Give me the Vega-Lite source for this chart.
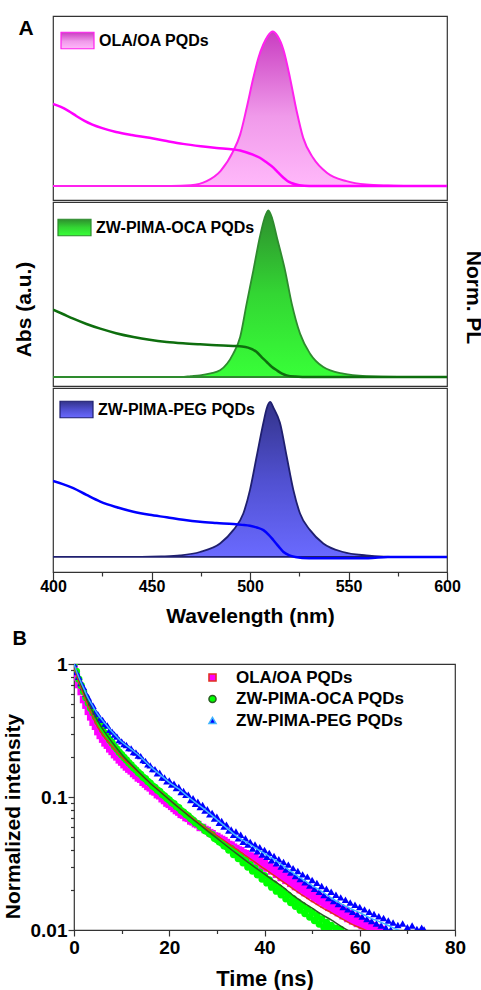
{
"$schema": "https://vega.github.io/schema/vega-lite/v6.json",
"padding": {"left": 0, "top": 15, "right": 0, "bottom": 0},
"background": "white",
"config": {
  "font": "Liberation Sans",
  "view": {"stroke": "#333333", "strokeWidth": 1.2},
  "axis": {"grid": false, "domain": false, "labelFont": "Liberation Sans", "titleFont": "Liberation Sans", "labelFontWeight": "bold", "titleFontWeight": "bold", "labelColor": "#000000", "titleColor": "#000000", "tickColor": "#333333", "tickWidth": 1.2},
  "legend": {"labelFont": "Liberation Sans", "labelColor": "#000000", "labelLimit": 300},
  "title": {"font": "Liberation Sans", "fontWeight": "bold", "color": "#000000"}
},
"datasets": {
  "pl1": [{"wl":400,"v":0},{"wl":460,"v":0},{"wl":470,"v":0.005},{"wl":478,"v":0.032},{"wl":485,"v":0.097},{"wl":491.5,"v":0.226},{"wl":495,"v":0.333},{"wl":498.3,"v":0.505},{"wl":501.7,"v":0.7},{"wl":504.3,"v":0.83},{"wl":506.7,"v":0.914},{"wl":509,"v":0.97},{"wl":511.5,"v":1},{"wl":514,"v":0.97},{"wl":517,"v":0.88},{"wl":520.3,"v":0.7},{"wl":523.7,"v":0.484},{"wl":527,"v":0.312},{"wl":532,"v":0.183},{"wl":539,"v":0.086},{"wl":549,"v":0.032},{"wl":559,"v":0.01},{"wl":570,"v":0.003},{"wl":580,"v":0},{"wl":600,"v":0}],
  "abs1": [{"wl":400,"v":0.531},{"wl":404,"v":0.512},{"wl":408,"v":0.485},{"wl":412,"v":0.452},{"wl":416,"v":0.422},{"wl":420,"v":0.398},{"wl":425,"v":0.375},{"wl":432,"v":0.35},{"wl":440,"v":0.33},{"wl":449,"v":0.312},{"wl":457,"v":0.293},{"wl":466,"v":0.273},{"wl":475,"v":0.258},{"wl":483,"v":0.247},{"wl":491.5,"v":0.237},{"wl":495,"v":0.23},{"wl":498,"v":0.219},{"wl":501.5,"v":0.203},{"wl":505,"v":0.183},{"wl":508.5,"v":0.152},{"wl":512,"v":0.118},{"wl":514.5,"v":0.085},{"wl":517,"v":0.054},{"wl":519,"v":0.033},{"wl":521,"v":0.02},{"wl":525,"v":0.005},{"wl":530,"v":0},{"wl":600,"v":0}],
  "pl2": [{"wl":400,"v":0},{"wl":465,"v":0},{"wl":470,"v":0.005},{"wl":474.6,"v":0.01},{"wl":480,"v":0.022},{"wl":484.8,"v":0.04},{"wl":491.5,"v":0.14},{"wl":495,"v":0.24},{"wl":498.3,"v":0.44},{"wl":501.7,"v":0.64},{"wl":505,"v":0.84},{"wl":507.3,"v":0.95},{"wl":509.3,"v":1},{"wl":511.3,"v":0.95},{"wl":513.6,"v":0.84},{"wl":517.8,"v":0.64},{"wl":521.2,"v":0.44},{"wl":525.4,"v":0.26},{"wl":530.5,"v":0.14},{"wl":537.2,"v":0.06},{"wl":547.3,"v":0.02},{"wl":559,"v":0.005},{"wl":575,"v":0},{"wl":600,"v":0}],
  "abs2": [{"wl":400,"v":0.404},{"wl":405,"v":0.378},{"wl":410.3,"v":0.35},{"wl":417,"v":0.318},{"wl":424,"v":0.29},{"wl":432,"v":0.263},{"wl":440.8,"v":0.24},{"wl":449,"v":0.223},{"wl":457.7,"v":0.21},{"wl":466,"v":0.202},{"wl":474.6,"v":0.196},{"wl":483,"v":0.191},{"wl":491.5,"v":0.186},{"wl":496,"v":0.183},{"wl":499,"v":0.176},{"wl":503.4,"v":0.15},{"wl":506,"v":0.118},{"wl":508.5,"v":0.09},{"wl":511,"v":0.062},{"wl":513.6,"v":0.04},{"wl":516,"v":0.022},{"wl":518.6,"v":0.01},{"wl":523,"v":0.003},{"wl":530,"v":0},{"wl":600,"v":0}],
  "pl3": [{"wl":400,"v":0},{"wl":445,"v":0},{"wl":455,"v":0.003},{"wl":464.5,"v":0.01},{"wl":474.6,"v":0.032},{"wl":484.8,"v":0.087},{"wl":491.5,"v":0.173},{"wl":496.6,"v":0.28},{"wl":500,"v":0.433},{"wl":503.4,"v":0.65},{"wl":506.8,"v":0.866},{"wl":508.5,"v":0.96},{"wl":510.2,"v":1},{"wl":512,"v":0.96},{"wl":515.2,"v":0.866},{"wl":518.6,"v":0.65},{"wl":522,"v":0.433},{"wl":525.4,"v":0.28},{"wl":530.5,"v":0.173},{"wl":537.2,"v":0.087},{"wl":547.3,"v":0.032},{"wl":559,"v":0.01},{"wl":568,"v":0.002},{"wl":575,"v":0},{"wl":600,"v":0}],
  "abs3": [{"wl":400,"v":0.49},{"wl":405,"v":0.47},{"wl":410.3,"v":0.444},{"wl":417,"v":0.4},{"wl":424,"v":0.357},{"wl":432,"v":0.322},{"wl":440.8,"v":0.292},{"wl":449,"v":0.272},{"wl":457.7,"v":0.256},{"wl":466,"v":0.24},{"wl":474.6,"v":0.227},{"wl":483,"v":0.219},{"wl":491.5,"v":0.212},{"wl":496,"v":0.207},{"wl":500,"v":0.201},{"wl":503.5,"v":0.19},{"wl":506.8,"v":0.173},{"wl":509.5,"v":0.143},{"wl":511.9,"v":0.108},{"wl":514.5,"v":0.068},{"wl":517,"v":0.032},{"wl":520,"v":0.01},{"wl":523,"v":0},{"wl":530,"v":-0.008},{"wl":560,"v":-0.008},{"wl":570,"v":0},{"wl":600,"v":0}],
  "decay": [
{"s":"O","t":0,"v":0.93},{"s":"O","t":0.5,"v":0.8},{"s":"O","t":1,"v":0.7},{"s":"O","t":1.5,"v":0.62},{"s":"O","t":2,"v":0.54},{"s":"O","t":2.5,"v":0.49},{"s":"O","t":3,"v":0.44},{"s":"O","t":3.5,"v":0.4},{"s":"O","t":4,"v":0.365},{"s":"O","t":4.5,"v":0.34},{"s":"O","t":5,"v":0.31},{"s":"O","t":5.5,"v":0.29},{"s":"O","t":6,"v":0.272},{"s":"O","t":6.5,"v":0.255},{"s":"O","t":7,"v":0.245},{"s":"O","t":7.5,"v":0.23},{"s":"O","t":8,"v":0.22},{"s":"O","t":8.5,"v":0.208},{"s":"O","t":9,"v":0.2},{"s":"O","t":9.5,"v":0.19},{"s":"O","t":10,"v":0.183},{"s":"O","t":10.5,"v":0.175},{"s":"O","t":11,"v":0.168},{"s":"O","t":11.5,"v":0.162},{"s":"O","t":12,"v":0.157},{"s":"O","t":12.5,"v":0.15},{"s":"O","t":13,"v":0.145},{"s":"O","t":13.5,"v":0.139},{"s":"O","t":14,"v":0.136},{"s":"O","t":14.5,"v":0.129},{"s":"O","t":15,"v":0.125},{"s":"O","t":15.5,"v":0.12},{"s":"O","t":16,"v":0.117},{"s":"O","t":16.5,"v":0.111},{"s":"O","t":17,"v":0.109},{"s":"O","t":17.5,"v":0.104},{"s":"O","t":18,"v":0.102},{"s":"O","t":18.5,"v":0.097},{"s":"O","t":19,"v":0.094},{"s":"O","t":19.5,"v":0.09},{"s":"O","t":20,"v":0.088},{"s":"O","t":20.5,"v":0.085},{"s":"O","t":21,"v":0.082},{"s":"O","t":21.5,"v":0.079},{"s":"O","t":22,"v":0.077},{"s":"O","t":22.5,"v":0.074},{"s":"O","t":23,"v":0.073},{"s":"O","t":23.5,"v":0.07},{"s":"O","t":24,"v":0.069},{"s":"O","t":24.5,"v":0.066},{"s":"O","t":25,"v":0.065},{"s":"O","t":25.5,"v":0.063},{"s":"O","t":26,"v":0.062},{"s":"O","t":26.5,"v":0.059},{"s":"O","t":27,"v":0.059},{"s":"O","t":27.5,"v":0.057},{"s":"O","t":28,"v":0.056},{"s":"O","t":28.5,"v":0.054},{"s":"O","t":29,"v":0.053},{"s":"O","t":29.5,"v":0.051},{"s":"O","t":30,"v":0.0505},{"s":"O","t":30.5,"v":0.049},{"s":"O","t":31,"v":0.048},{"s":"O","t":31.5,"v":0.047},{"s":"O","t":32,"v":0.0455},{"s":"O","t":32.5,"v":0.044},{"s":"O","t":33,"v":0.0435},{"s":"O","t":33.5,"v":0.042},{"s":"O","t":34,"v":0.041},{"s":"O","t":34.5,"v":0.04},{"s":"O","t":35,"v":0.0395},{"s":"O","t":35.5,"v":0.038},{"s":"O","t":36,"v":0.0375},{"s":"O","t":36.5,"v":0.036},{"s":"O","t":37,"v":0.036},{"s":"O","t":37.5,"v":0.034},{"s":"O","t":38,"v":0.035},{"s":"O","t":38.5,"v":0.032},{"s":"O","t":39,"v":0.0335},{"s":"O","t":39.5,"v":0.03},{"s":"O","t":40,"v":0.0322},{"s":"O","t":40.5,"v":0.0292},{"s":"O","t":41,"v":0.0305},{"s":"O","t":41.5,"v":0.0278},{"s":"O","t":42,"v":0.0292},{"s":"O","t":42.5,"v":0.0262},{"s":"O","t":43,"v":0.028},{"s":"O","t":43.5,"v":0.0248},{"s":"O","t":44,"v":0.0266},{"s":"O","t":44.5,"v":0.0236},{"s":"O","t":45,"v":0.0252},{"s":"O","t":45.5,"v":0.0224},{"s":"O","t":46,"v":0.024},{"s":"O","t":46.5,"v":0.0212},{"s":"O","t":47,"v":0.0228},{"s":"O","t":47.5,"v":0.0201},{"s":"O","t":48,"v":0.0216},{"s":"O","t":48.5,"v":0.0191},{"s":"O","t":49,"v":0.0206},{"s":"O","t":49.5,"v":0.0182},{"s":"O","t":50,"v":0.0196},{"s":"O","t":50.5,"v":0.0172},{"s":"O","t":51,"v":0.0186},{"s":"O","t":51.5,"v":0.0164},{"s":"O","t":52,"v":0.0177},{"s":"O","t":52.5,"v":0.0156},{"s":"O","t":53,"v":0.0168},{"s":"O","t":53.5,"v":0.0148},{"s":"O","t":54,"v":0.016},{"s":"O","t":54.5,"v":0.0141},{"s":"O","t":55,"v":0.0153},{"s":"O","t":55.5,"v":0.0135},{"s":"O","t":56,"v":0.0146},{"s":"O","t":56.5,"v":0.0128},{"s":"O","t":57,"v":0.014},{"s":"O","t":57.5,"v":0.0122},{"s":"O","t":58,"v":0.0133},{"s":"O","t":58.5,"v":0.0117},{"s":"O","t":59,"v":0.0127},{"s":"O","t":59.5,"v":0.0112},{"s":"O","t":60,"v":0.0122},{"s":"O","t":60.5,"v":0.0108},{"s":"O","t":61,"v":0.0116},{"s":"O","t":61.5,"v":0.0104},{"s":"O","t":62,"v":0.0112},{"s":"O","t":62.5,"v":0.0101},{"s":"O","t":63,"v":0.0108},{"s":"O","t":64,"v":0.0104},{"s":"O","t":65,"v":0.0101},
{"s":"C","t":0,"v":1},{"s":"C","t":0.5,"v":0.88},{"s":"C","t":1,"v":0.77},{"s":"C","t":1.5,"v":0.69},{"s":"C","t":2,"v":0.62},{"s":"C","t":2.5,"v":0.56},{"s":"C","t":3,"v":0.51},{"s":"C","t":3.5,"v":0.465},{"s":"C","t":4,"v":0.43},{"s":"C","t":4.5,"v":0.4},{"s":"C","t":5,"v":0.37},{"s":"C","t":5.5,"v":0.345},{"s":"C","t":6,"v":0.32},{"s":"C","t":6.5,"v":0.3},{"s":"C","t":7,"v":0.285},{"s":"C","t":7.5,"v":0.268},{"s":"C","t":8,"v":0.255},{"s":"C","t":8.5,"v":0.24},{"s":"C","t":9,"v":0.23},{"s":"C","t":9.5,"v":0.217},{"s":"C","t":10,"v":0.208},{"s":"C","t":10.5,"v":0.198},{"s":"C","t":11,"v":0.19},{"s":"C","t":11.5,"v":0.181},{"s":"C","t":12,"v":0.174},{"s":"C","t":12.5,"v":0.166},{"s":"C","t":13,"v":0.16},{"s":"C","t":13.5,"v":0.153},{"s":"C","t":14,"v":0.148},{"s":"C","t":14.5,"v":0.141},{"s":"C","t":15,"v":0.137},{"s":"C","t":15.5,"v":0.131},{"s":"C","t":16,"v":0.127},{"s":"C","t":16.5,"v":0.121},{"s":"C","t":17,"v":0.118},{"s":"C","t":17.5,"v":0.113},{"s":"C","t":18,"v":0.11},{"s":"C","t":18.5,"v":0.105},{"s":"C","t":19,"v":0.102},{"s":"C","t":19.5,"v":0.098},{"s":"C","t":20,"v":0.095},{"s":"C","t":20.5,"v":0.091},{"s":"C","t":21,"v":0.089},{"s":"C","t":21.5,"v":0.085},{"s":"C","t":22,"v":0.083},{"s":"C","t":22.5,"v":0.079},{"s":"C","t":23,"v":0.077},{"s":"C","t":23.5,"v":0.074},{"s":"C","t":24,"v":0.072},{"s":"C","t":24.5,"v":0.069},{"s":"C","t":25,"v":0.067},{"s":"C","t":25.5,"v":0.064},{"s":"C","t":26,"v":0.063},{"s":"C","t":26.5,"v":0.06},{"s":"C","t":27,"v":0.059},{"s":"C","t":27.5,"v":0.056},{"s":"C","t":28,"v":0.055},{"s":"C","t":28.5,"v":0.053},{"s":"C","t":29,"v":0.052},{"s":"C","t":29.5,"v":0.049},{"s":"C","t":30,"v":0.048},{"s":"C","t":30.5,"v":0.046},{"s":"C","t":31,"v":0.045},{"s":"C","t":31.5,"v":0.043},{"s":"C","t":32,"v":0.0425},{"s":"C","t":32.5,"v":0.04},{"s":"C","t":33,"v":0.041},{"s":"C","t":33.5,"v":0.037},{"s":"C","t":34,"v":0.0385},{"s":"C","t":34.5,"v":0.0345},{"s":"C","t":35,"v":0.036},{"s":"C","t":35.5,"v":0.032},{"s":"C","t":36,"v":0.0335},{"s":"C","t":36.5,"v":0.0298},{"s":"C","t":37,"v":0.031},{"s":"C","t":37.5,"v":0.0278},{"s":"C","t":38,"v":0.0292},{"s":"C","t":38.5,"v":0.026},{"s":"C","t":39,"v":0.0272},{"s":"C","t":39.5,"v":0.0242},{"s":"C","t":40,"v":0.0256},{"s":"C","t":40.5,"v":0.0226},{"s":"C","t":41,"v":0.0238},{"s":"C","t":41.5,"v":0.021},{"s":"C","t":42,"v":0.0222},{"s":"C","t":42.5,"v":0.0196},{"s":"C","t":43,"v":0.0208},{"s":"C","t":43.5,"v":0.0184},{"s":"C","t":44,"v":0.0195},{"s":"C","t":44.5,"v":0.0172},{"s":"C","t":45,"v":0.0183},{"s":"C","t":45.5,"v":0.0161},{"s":"C","t":46,"v":0.0172},{"s":"C","t":46.5,"v":0.0151},{"s":"C","t":47,"v":0.0162},{"s":"C","t":47.5,"v":0.0141},{"s":"C","t":48,"v":0.0153},{"s":"C","t":48.5,"v":0.0133},{"s":"C","t":49,"v":0.0144},{"s":"C","t":49.5,"v":0.0125},{"s":"C","t":50,"v":0.0136},{"s":"C","t":50.5,"v":0.0118},{"s":"C","t":51,"v":0.0128},{"s":"C","t":51.5,"v":0.0111},{"s":"C","t":52,"v":0.0121},{"s":"C","t":52.5,"v":0.0105},{"s":"C","t":53,"v":0.0114},{"s":"C","t":53.5,"v":0.0101},{"s":"C","t":54,"v":0.0108},{"s":"C","t":55,"v":0.0103},{"s":"C","t":56,"v":0.0101},
{"s":"P","t":0,"v":1},{"s":"P","t":0.5,"v":0.87},{"s":"P","t":1,"v":0.8},{"s":"P","t":1.5,"v":0.72},{"s":"P","t":2,"v":0.67},{"s":"P","t":2.5,"v":0.6},{"s":"P","t":3,"v":0.56},{"s":"P","t":3.5,"v":0.51},{"s":"P","t":4,"v":0.485},{"s":"P","t":4.5,"v":0.44},{"s":"P","t":5,"v":0.42},{"s":"P","t":5.5,"v":0.39},{"s":"P","t":6,"v":0.38},{"s":"P","t":6.5,"v":0.355},{"s":"P","t":7,"v":0.345},{"s":"P","t":7.5,"v":0.32},{"s":"P","t":8,"v":0.31},{"s":"P","t":8.5,"v":0.295},{"s":"P","t":9,"v":0.285},{"s":"P","t":9.5,"v":0.268},{"s":"P","t":10,"v":0.262},{"s":"P","t":10.5,"v":0.25},{"s":"P","t":11,"v":0.246},{"s":"P","t":11.5,"v":0.233},{"s":"P","t":12,"v":0.232},{"s":"P","t":12.5,"v":0.218},{"s":"P","t":13,"v":0.216},{"s":"P","t":13.5,"v":0.205},{"s":"P","t":14,"v":0.203},{"s":"P","t":14.5,"v":0.19},{"s":"P","t":15,"v":0.187},{"s":"P","t":15.5,"v":0.176},{"s":"P","t":16,"v":0.173},{"s":"P","t":16.5,"v":0.162},{"s":"P","t":17,"v":0.162},{"s":"P","t":17.5,"v":0.151},{"s":"P","t":18,"v":0.152},{"s":"P","t":18.5,"v":0.14},{"s":"P","t":19,"v":0.14},{"s":"P","t":19.5,"v":0.131},{"s":"P","t":20,"v":0.133},{"s":"P","t":20.5,"v":0.124},{"s":"P","t":21,"v":0.126},{"s":"P","t":21.5,"v":0.117},{"s":"P","t":22,"v":0.119},{"s":"P","t":22.5,"v":0.109},{"s":"P","t":23,"v":0.111},{"s":"P","t":23.5,"v":0.104},{"s":"P","t":24,"v":0.104},{"s":"P","t":24.5,"v":0.095},{"s":"P","t":25,"v":0.098},{"s":"P","t":25.5,"v":0.089},{"s":"P","t":26,"v":0.092},{"s":"P","t":26.5,"v":0.084},{"s":"P","t":27,"v":0.087},{"s":"P","t":27.5,"v":0.079},{"s":"P","t":28,"v":0.081},{"s":"P","t":28.5,"v":0.074},{"s":"P","t":29,"v":0.076},{"s":"P","t":29.5,"v":0.069},{"s":"P","t":30,"v":0.071},{"s":"P","t":30.5,"v":0.064},{"s":"P","t":31,"v":0.066},{"s":"P","t":31.5,"v":0.06},{"s":"P","t":32,"v":0.062},{"s":"P","t":32.5,"v":0.056},{"s":"P","t":33,"v":0.057},{"s":"P","t":33.5,"v":0.052},{"s":"P","t":34,"v":0.055},{"s":"P","t":34.5,"v":0.049},{"s":"P","t":35,"v":0.052},{"s":"P","t":35.5,"v":0.046},{"s":"P","t":36,"v":0.049},{"s":"P","t":36.5,"v":0.044},{"s":"P","t":37,"v":0.046},{"s":"P","t":37.5,"v":0.041},{"s":"P","t":38,"v":0.044},{"s":"P","t":38.5,"v":0.039},{"s":"P","t":39,"v":0.042},{"s":"P","t":39.5,"v":0.037},{"s":"P","t":40,"v":0.04},{"s":"P","t":40.5,"v":0.0355},{"s":"P","t":41,"v":0.038},{"s":"P","t":41.5,"v":0.0335},{"s":"P","t":42,"v":0.036},{"s":"P","t":42.5,"v":0.0318},{"s":"P","t":43,"v":0.034},{"s":"P","t":43.5,"v":0.03},{"s":"P","t":44,"v":0.0325},{"s":"P","t":44.5,"v":0.0285},{"s":"P","t":45,"v":0.031},{"s":"P","t":45.5,"v":0.027},{"s":"P","t":46,"v":0.0292},{"s":"P","t":46.5,"v":0.0255},{"s":"P","t":47,"v":0.0278},{"s":"P","t":47.5,"v":0.0242},{"s":"P","t":48,"v":0.0262},{"s":"P","t":48.5,"v":0.0228},{"s":"P","t":49,"v":0.0252},{"s":"P","t":49.5,"v":0.0216},{"s":"P","t":50,"v":0.0238},{"s":"P","t":50.5,"v":0.0204},{"s":"P","t":51,"v":0.0226},{"s":"P","t":51.5,"v":0.0194},{"s":"P","t":52,"v":0.0214},{"s":"P","t":52.5,"v":0.0183},{"s":"P","t":53,"v":0.0204},{"s":"P","t":53.5,"v":0.0174},{"s":"P","t":54,"v":0.0194},{"s":"P","t":54.5,"v":0.0165},{"s":"P","t":55,"v":0.0184},{"s":"P","t":55.5,"v":0.0157},{"s":"P","t":56,"v":0.0176},{"s":"P","t":56.5,"v":0.0149},{"s":"P","t":57,"v":0.0169},{"s":"P","t":57.5,"v":0.0143},{"s":"P","t":58,"v":0.0161},{"s":"P","t":58.5,"v":0.0137},{"s":"P","t":59,"v":0.0155},{"s":"P","t":59.5,"v":0.0131},{"s":"P","t":60,"v":0.0149},{"s":"P","t":60.5,"v":0.0126},{"s":"P","t":61,"v":0.0143},{"s":"P","t":61.5,"v":0.0121},{"s":"P","t":62,"v":0.0137},{"s":"P","t":62.5,"v":0.0117},{"s":"P","t":63,"v":0.0132},{"s":"P","t":63.5,"v":0.0112},{"s":"P","t":64,"v":0.0127},{"s":"P","t":64.5,"v":0.0108},{"s":"P","t":65,"v":0.0123},{"s":"P","t":65.5,"v":0.0104},{"s":"P","t":66,"v":0.0118},{"s":"P","t":66.5,"v":0.0101},{"s":"P","t":67,"v":0.0114},{"s":"P","t":68,"v":0.0109},{"s":"P","t":69,"v":0.0112},{"s":"P","t":70,"v":0.0105},{"s":"P","t":71,"v":0.0108},{"s":"P","t":72,"v":0.0102},{"s":"P","t":73,"v":0.0104},{"s":"P","t":73.5,"v":0.0101}
  ],
  "fits": [
{"s":"O","t":0,"v":0.955},{"s":"O","t":1,"v":0.741},{"s":"O","t":2,"v":0.589},{"s":"O","t":3,"v":0.479},{"s":"O","t":4,"v":0.398},{"s":"O","t":5,"v":0.335},{"s":"O","t":6,"v":0.295},{"s":"O","t":8,"v":0.24},{"s":"O","t":10,"v":0.2},{"s":"O","t":12,"v":0.172},{"s":"O","t":14,"v":0.148},{"s":"O","t":16,"v":0.127},{"s":"O","t":18,"v":0.111},{"s":"O","t":20,"v":0.0955},{"s":"O","t":22,"v":0.0832},{"s":"O","t":24,"v":0.0733},{"s":"O","t":26,"v":0.0646},{"s":"O","t":28,"v":0.0575},{"s":"O","t":30,"v":0.0513},{"s":"O","t":32,"v":0.0457},{"s":"O","t":34,"v":0.0407},{"s":"O","t":36,"v":0.0363},{"s":"O","t":38,"v":0.0324},{"s":"O","t":40,"v":0.0288},{"s":"O","t":42,"v":0.0257},{"s":"O","t":44,"v":0.0229},{"s":"O","t":46,"v":0.0204},{"s":"O","t":48,"v":0.0182},{"s":"O","t":50,"v":0.0164},{"s":"O","t":52,"v":0.0148},{"s":"O","t":54,"v":0.0135},{"s":"O","t":56,"v":0.0123},{"s":"O","t":58,"v":0.0112},{"s":"O","t":60,"v":0.0104},{"s":"O","t":62,"v":0.0097},
{"s":"C","t":0,"v":1},{"s":"C","t":1,"v":0.78},{"s":"C","t":2,"v":0.625},{"s":"C","t":3,"v":0.515},{"s":"C","t":4,"v":0.435},{"s":"C","t":5,"v":0.372},{"s":"C","t":6,"v":0.325},{"s":"C","t":8,"v":0.258},{"s":"C","t":10,"v":0.21},{"s":"C","t":12,"v":0.176},{"s":"C","t":14,"v":0.149},{"s":"C","t":16,"v":0.127},{"s":"C","t":18,"v":0.11},{"s":"C","t":20,"v":0.0955},{"s":"C","t":22,"v":0.083},{"s":"C","t":24,"v":0.0725},{"s":"C","t":26,"v":0.0635},{"s":"C","t":28,"v":0.0557},{"s":"C","t":30,"v":0.049},{"s":"C","t":32,"v":0.043},{"s":"C","t":34,"v":0.0378},{"s":"C","t":36,"v":0.0334},{"s":"C","t":38,"v":0.0296},{"s":"C","t":40,"v":0.0263},{"s":"C","t":42,"v":0.0234},{"s":"C","t":44,"v":0.0208},{"s":"C","t":46,"v":0.0182},{"s":"C","t":48,"v":0.0162},{"s":"C","t":50,"v":0.0146},{"s":"C","t":52,"v":0.0131},{"s":"C","t":54,"v":0.0119},{"s":"C","t":56,"v":0.0107},{"s":"C","t":58,"v":0.0097},
{"s":"P","t":0,"v":1},{"s":"P","t":1,"v":0.794},{"s":"P","t":2,"v":0.661},{"s":"P","t":3,"v":0.55},{"s":"P","t":4,"v":0.479},{"s":"P","t":5,"v":0.417},{"s":"P","t":6,"v":0.376},{"s":"P","t":8,"v":0.309},{"s":"P","t":10,"v":0.26},{"s":"P","t":12,"v":0.229},{"s":"P","t":14,"v":0.2},{"s":"P","t":16,"v":0.17},{"s":"P","t":18,"v":0.148},{"s":"P","t":20,"v":0.129},{"s":"P","t":22,"v":0.115},{"s":"P","t":24,"v":0.1},{"s":"P","t":26,"v":0.0881},{"s":"P","t":28,"v":0.0776},{"s":"P","t":30,"v":0.0676},{"s":"P","t":32,"v":0.0589},{"s":"P","t":34,"v":0.0513},{"s":"P","t":36,"v":0.0462},{"s":"P","t":38,"v":0.0417},{"s":"P","t":40,"v":0.0376},{"s":"P","t":42,"v":0.0339},{"s":"P","t":44,"v":0.0302},{"s":"P","t":46,"v":0.0269},{"s":"P","t":48,"v":0.024},{"s":"P","t":50,"v":0.0216},{"s":"P","t":52,"v":0.0195},{"s":"P","t":54,"v":0.0174},{"s":"P","t":56,"v":0.0158},{"s":"P","t":58,"v":0.0145},{"s":"P","t":60,"v":0.0135},{"s":"P","t":62,"v":0.0124},{"s":"P","t":64,"v":0.0116},{"s":"P","t":66,"v":0.0108},{"s":"P","t":68,"v":0.01},{"s":"P","t":69,"v":0.0097}
  ]
},
"vconcat": [
  {
    "hconcat": [
      {"width": 12, "height": 10, "data": {"values": [{"k": 1}]}, "mark": {"type": "text", "text": ""}, "encoding": {}, "view": {"stroke": null}},
      {
        "vconcat": [
          {
            "width": 394, "height": 184,
            "layer": [
              {"data": {"name": "pl1"},
               "mark": {"type": "area", "interpolate": "monotone", "strokeWidth": 2, "clip": true,
                 "fill": {"gradient": "linear", "x1": 0, "y1": 0, "x2": 0, "y2": 1, "stops": [{"offset": 0, "color": "#C93DC1"}, {"offset": 0.55, "color": "#F09AEA"}, {"offset": 1, "color": "#FFB8FA"}]}},
               "encoding": {
                 "x": {"field": "wl", "type": "quantitative", "scale": {"domain": [400, 600], "nice": false}, "axis": null},
                 "y": {"field": "v", "type": "quantitative", "scale": {"domain": [-0.09, 1.1], "nice": false}, "axis": null},
                 "y2": {"datum": 0},
                 "stroke": {"datum": "OLA/OA PQDs", "scale": {"range": ["#FF22EE"]},
                   "legend": {"title": null, "orient": "none", "legendX": 7, "legendY": 7, "padding": 0, "symbolType": "M-1,-0.5H1V0.5H-1Z", "symbolSize": 1089, "symbolStrokeWidth": 1.2,
                     "symbolFillColor": {"gradient": "linear", "x1": 0, "y1": 0, "x2": 0, "y2": 1, "stops": [{"offset": 0, "color": "#D04CC8"}, {"offset": 1, "color": "#F8B0F2"}]},
                     "labelFontSize": 16, "labelFontWeight": "bold", "labelOffset": 4}}
               }},
              {"data": {"name": "abs1"},
               "mark": {"type": "line", "interpolate": "monotone", "color": "#FF00FF", "strokeWidth": 2.5, "clip": true},
               "encoding": {
                 "x": {"field": "wl", "type": "quantitative"},
                 "y": {"field": "v", "type": "quantitative", "scale": {"domain": [-0.09, 1.1], "nice": false},
                   "axis": {"orient": "left", "title": "A", "ticks": false, "labels": false, "titleAngle": 0, "titleX": -35, "titleY": 22, "titleAlign": "left", "titleBaseline": "bottom", "titleFontSize": 21}}
               }}
            ],
            "resolve": {"scale": {"y": "independent"}}
          },
          {
            "width": 394, "height": 184,
            "layer": [
              {"data": {"name": "pl2"},
               "mark": {"type": "area", "interpolate": "monotone", "strokeWidth": 1.8, "clip": true,
                 "fill": {"gradient": "linear", "x1": 0, "y1": 0, "x2": 0, "y2": 1, "stops": [{"offset": 0, "color": "#2E8E2E"}, {"offset": 0.5, "color": "#33D633"}, {"offset": 1, "color": "#38FF38"}]}},
               "encoding": {
                 "x": {"field": "wl", "type": "quantitative", "scale": {"domain": [400, 600], "nice": false}, "axis": null},
                 "y": {"field": "v", "type": "quantitative", "scale": {"domain": [-0.054, 1.05], "nice": false},
                   "axis": {"orient": "right", "title": "Norm. PL", "ticks": false, "labels": false, "titleFontSize": 21, "titlePadding": 15, "titleY": 95}},
                 "y2": {"datum": 0},
                 "stroke": {"datum": "ZW-PIMA-OCA PQDs", "scale": {"range": ["#2E8B2E"]},
                   "legend": {"title": null, "orient": "none", "legendX": 4, "legendY": 8, "padding": 0, "symbolType": "M-1,-0.5H1V0.5H-1Z", "symbolSize": 1089, "symbolStrokeWidth": 1.2,
                     "symbolFillColor": {"gradient": "linear", "x1": 0, "y1": 0, "x2": 0, "y2": 1, "stops": [{"offset": 0, "color": "#2E9A2E"}, {"offset": 1, "color": "#3CF03C"}]},
                     "labelFontSize": 16, "labelFontWeight": "bold", "labelOffset": 4}}
               }},
              {"data": {"name": "abs2"},
               "mark": {"type": "line", "interpolate": "monotone", "color": "#0E6E0E", "strokeWidth": 2.5, "clip": true},
               "encoding": {
                 "x": {"field": "wl", "type": "quantitative"},
                 "y": {"field": "v", "type": "quantitative", "scale": {"domain": [-0.054, 1.05], "nice": false},
                   "axis": {"orient": "left", "title": "Abs (a.u.)", "ticks": false, "labels": false, "titleFontSize": 21, "titlePadding": 19, "titleY": 107}}
               }}
            ],
            "resolve": {"scale": {"y": "independent"}}
          },
          {
            "width": 394, "height": 184,
            "layer": [
              {"data": {"name": "pl3"},
               "mark": {"type": "area", "interpolate": "monotone", "strokeWidth": 1.8, "clip": true,
                 "fill": {"gradient": "linear", "x1": 0, "y1": 0, "x2": 0, "y2": 1, "stops": [{"offset": 0, "color": "#33338A"}, {"offset": 0.5, "color": "#5050D0"}, {"offset": 1, "color": "#6A6AFF"}]}},
               "encoding": {
                 "x": {"field": "wl", "type": "quantitative", "scale": {"domain": [400, 600], "nice": false},
                   "axis": {"values": [400, 425, 450, 475, 500, 525, 550, 575, 600], "labelExpr": "datum.value % 50 === 0 ? datum.label : ''",
                     "tickSize": {"condition": {"test": "datum.value % 50 !== 0", "value": 4}, "value": 8},
                     "labelFontSize": 16, "labelPadding": -2, "labelFlush": false, "labelOverlap": false,
                     "title": "Wavelength (nm)", "titleFontSize": 21, "titlePadding": 11}},
                 "y": {"field": "v", "type": "quantitative", "scale": {"domain": [-0.097, 1.09], "nice": false}, "axis": null},
                 "y2": {"datum": 0},
                 "stroke": {"datum": "ZW-PIMA-PEG PQDs", "scale": {"range": ["#1F1F6F"]},
                   "legend": {"title": null, "orient": "none", "legendX": 6, "legendY": 4, "padding": 0, "symbolType": "M-1,-0.5H1V0.5H-1Z", "symbolSize": 1089, "symbolStrokeWidth": 1.2,
                     "symbolFillColor": {"gradient": "linear", "x1": 0, "y1": 0, "x2": 0, "y2": 1, "stops": [{"offset": 0, "color": "#3C3CA0"}, {"offset": 1, "color": "#6666F5"}]},
                     "labelFontSize": 16, "labelFontWeight": "bold", "labelOffset": 4}}
               }},
              {"data": {"name": "abs3"},
               "mark": {"type": "line", "interpolate": "monotone", "color": "#0000FF", "strokeWidth": 2.5, "clip": true},
               "encoding": {
                 "x": {"field": "wl", "type": "quantitative"},
                 "y": {"field": "v", "type": "quantitative", "scale": {"domain": [-0.097, 1.09], "nice": false}, "axis": null}
               }}
            ],
            "resolve": {"scale": {"y": "independent"}}
          }
        ],
        "spacing": 0,
        "resolve": {"scale": {"stroke": "independent"}, "legend": {"stroke": "independent"}}
      }
    ],
    "spacing": 0,
    "resolve": {"scale": {"stroke": "independent"}, "legend": {"stroke": "independent"}}
  },
  {
    "hconcat": [
      {"width": 1, "height": 10, "data": {"values": [{"k": 1}]}, "mark": {"type": "text", "text": ""}, "encoding": {}, "view": {"stroke": null}},
      {
        "width": 381, "height": 266,
        "layer": [
          {"data": {"name": "decay"},
           "mark": {"type": "point", "filled": true, "size": 55, "opacity": 1, "clip": true},
           "encoding": {
             "x": {"field": "t", "type": "quantitative", "scale": {"domain": [0, 80], "nice": false},
               "axis": {"values": [0, 10, 20, 30, 40, 50, 60, 70, 80], "labelExpr": "datum.value % 20 === 0 ? datum.label : ''",
                 "tickSize": {"condition": {"test": "datum.value % 20 !== 0", "value": 3.5}, "value": 6},
                 "labelFontSize": 19, "labelPadding": 2, "labelFlush": false, "labelOverlap": false,
                 "title": "Time (ns)", "titleFontSize": 22, "titlePadding": 11}},
             "y": {"field": "v", "type": "quantitative", "scale": {"type": "log", "domain": [0.01, 1], "nice": false},
               "axis": {"values": [0.01, 0.02, 0.03, 0.04, 0.05, 0.06, 0.07, 0.08, 0.09, 0.1, 0.2, 0.3, 0.4, 0.5, 0.6, 0.7, 0.8, 0.9, 1],
                 "labelExpr": "datum.value > 0.995 ? '1' : abs(datum.value - 0.1) < 0.000001 ? '0.1' : abs(datum.value - 0.01) < 0.0000001 ? '0.01' : ''",
                 "tickSize": {"condition": {"test": "datum.value < 0.995 && abs(datum.value - 0.1) > 0.000001 && abs(datum.value - 0.01) > 0.0000001", "value": 3.5}, "value": 6},
                 "labelFontSize": 19, "labelPadding": 1, "labelOverlap": false,
                 "title": "Normalized intensity", "titleFontSize": 21, "titlePadding": 7, "titleY": 152}},
             "color": {"field": "s", "type": "nominal", "scale": {"domain": ["O", "C", "P"], "range": ["#FF00FF", "#00FF00", "#0000FF"]},
               "legend": {"title": null, "orient": "none", "legendX": 130, "legendY": 5, "padding": 0, "symbolSize": 50, "rowPadding": 3.5, "labelOffset": 15,
                 "labelFontSize": 17, "labelFontWeight": "bold",
                 "labelExpr": "datum.label === 'O' ? 'OLA/OA PQDs' : datum.label === 'C' ? 'ZW-PIMA-OCA PQDs' : 'ZW-PIMA-PEG PQDs'"}},
             "shape": {"field": "s", "type": "nominal", "scale": {"domain": ["O", "C", "P"], "range": ["square", "circle", "triangle-up"]}}
           }},
          {"data": {"name": "fits"},
           "mark": {"type": "line", "strokeWidth": 1.5, "clip": true, "interpolate": "monotone"},
           "encoding": {
             "x": {"field": "t", "type": "quantitative",
               "axis": {"orient": "top", "title": "B", "ticks": false, "labels": false, "titleAngle": 0, "titleX": -62, "titleY": -16, "titleAlign": "left", "titleBaseline": "bottom", "titleFontSize": 20}},
             "y": {"field": "v", "type": "quantitative"},
             "stroke": {"field": "s", "type": "nominal", "scale": {"domain": ["O", "C", "P"], "range": ["#E0301E", "#2A5A22", "#40B4FF"]}, "legend": null}
           }}
        ],
        "resolve": {"axis": {"x": "independent"}}
      }
    ],
    "spacing": 0,
    "resolve": {"scale": {"color": "independent", "shape": "independent", "stroke": "independent"}, "legend": {"color": "independent", "shape": "independent", "stroke": "independent"}}
  }
],
"spacing": 0,
"resolve": {"scale": {"color": "independent", "shape": "independent", "stroke": "independent"}, "legend": {"color": "independent", "shape": "independent", "stroke": "independent"}}
}
